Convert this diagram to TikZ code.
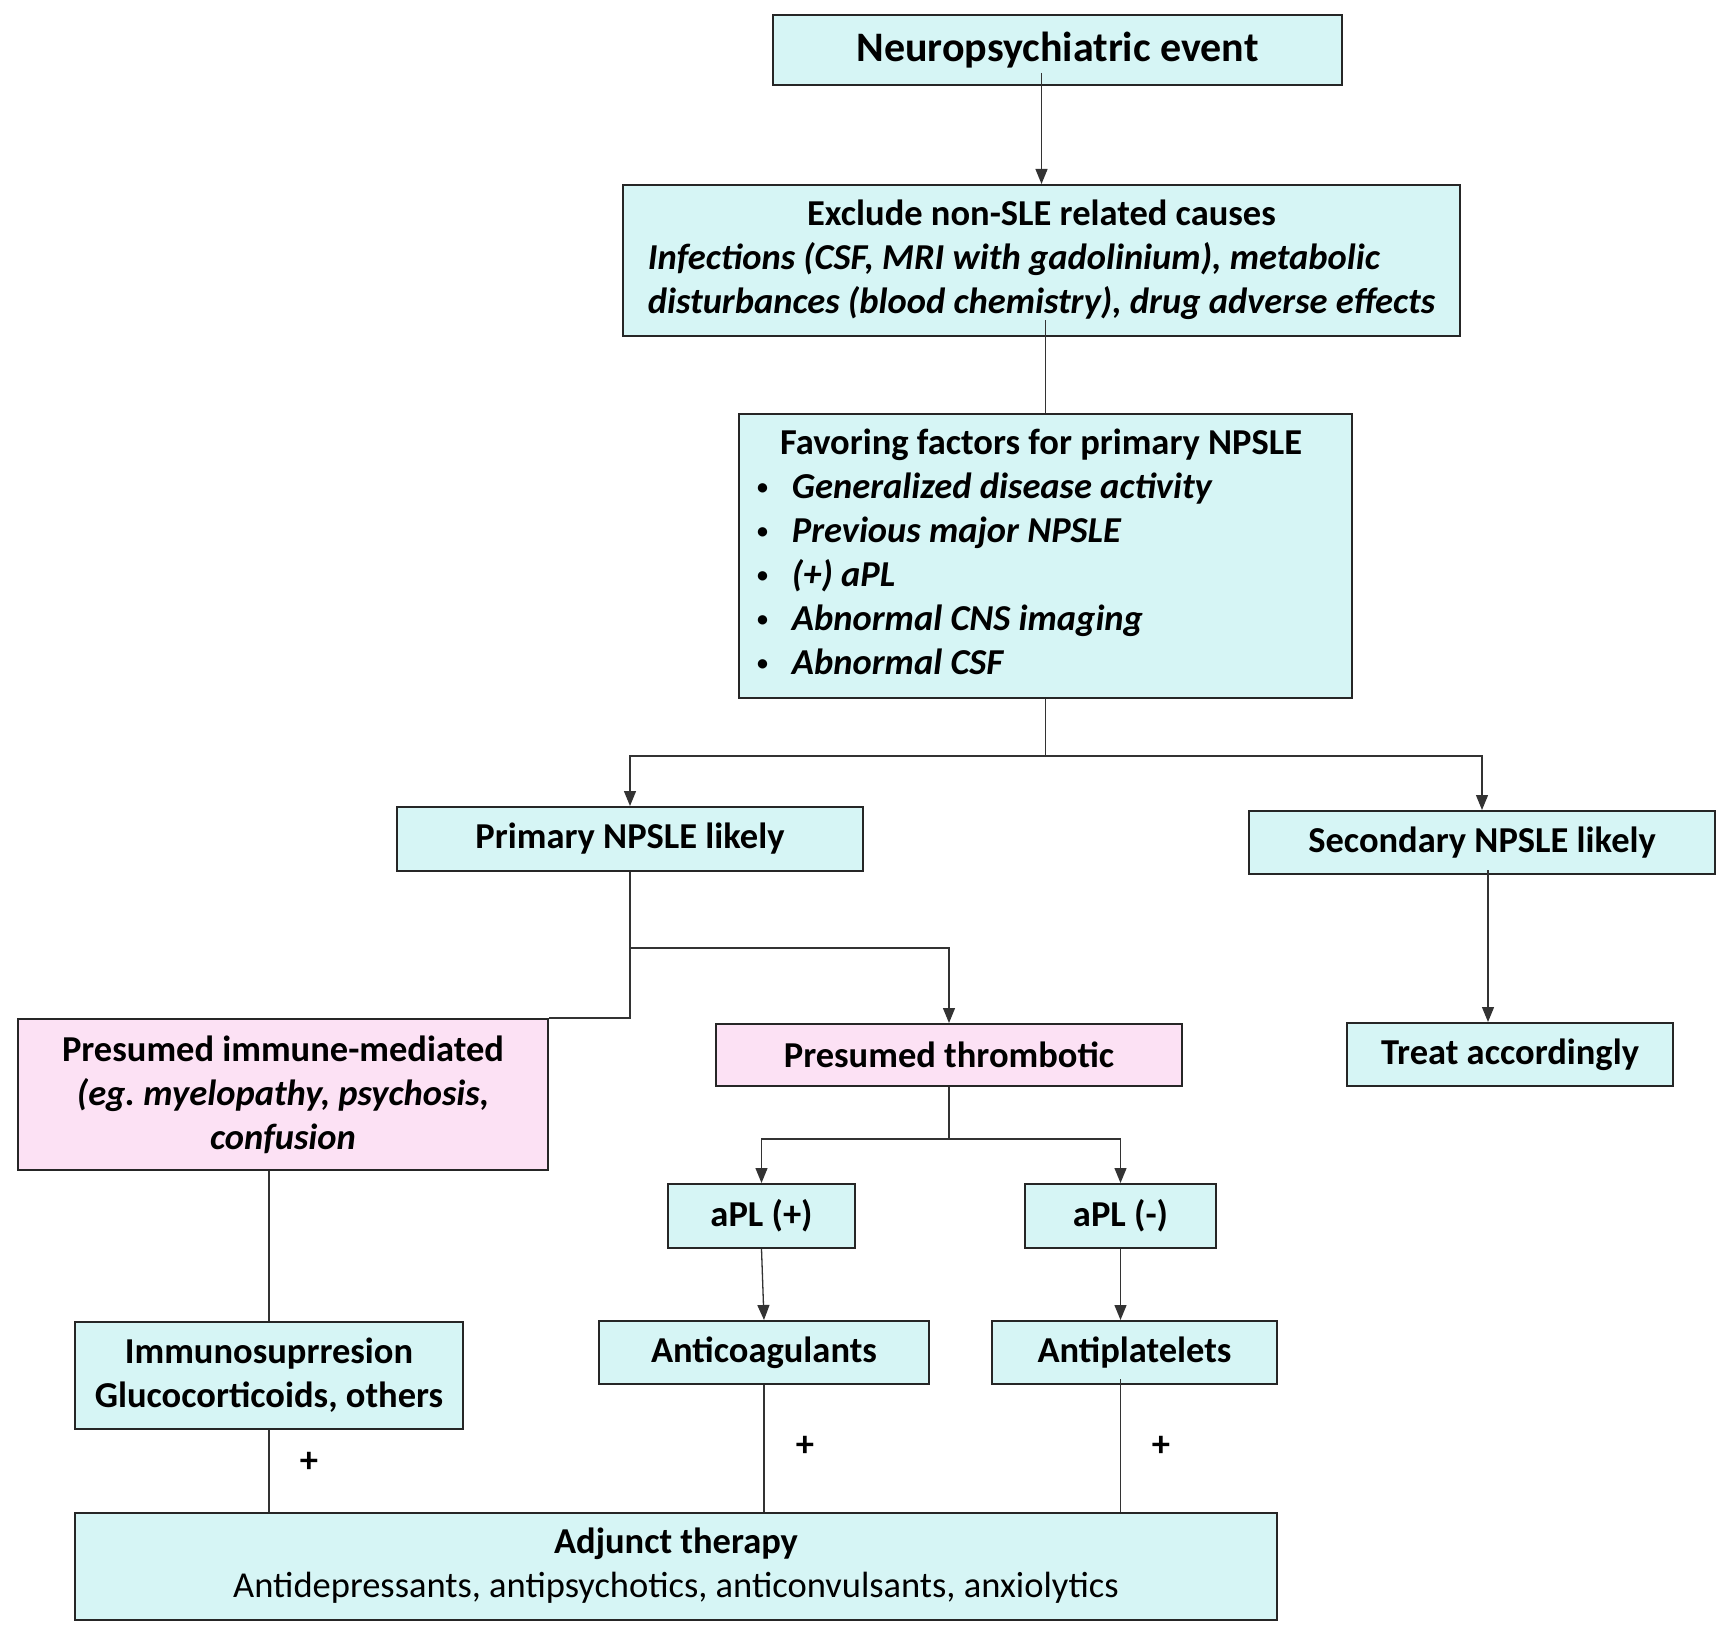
\documentclass[tikz,border=0pt]{standalone}
\usepackage{fontspec}
\setmainfont{Carlito}
\usetikzlibrary{arrows.meta}
\definecolor{boxcyan}{RGB}{214,245,245}
\definecolor{boxpink}{RGB}{252,225,244}
\newcommand{\factorbullet}{\raisebox{4pt}{\fontsize{22}{22}\selectfont\textbullet}\hspace{24pt}}

\begin{document}
\begin{tikzpicture}[x=1pt,y=-1pt,
  box/.style={draw=black!85, line width=2pt, fill=boxcyan, inner sep=0pt, align=center,
    font=\bfseries\fontsize{36.5}{44}\selectfont},
  pinkbox/.style={box, fill=boxpink},
  line/.style={draw=black!80, line width=1.3pt},
  arr/.style={line, -{Triangle[length=15pt,width=12pt]}},
  plus/.style={font=\bfseries\fontsize{36.5}{44}\selectfont}]

  \useasboundingbox (0,0) rectangle (1726,1637);

  \node[box, minimum width=569pt, minimum height=70pt, font=\bfseries\fontsize{42}{50}\selectfont] (event) at (1057.5,50) {Neuropsychiatric event};
  \node[box, minimum width=837pt, minimum height=151pt] (exclude) at (1041.5,260.5) {\begin{tabular}{@{}l@{}}\multicolumn{1}{@{}c@{}}{Exclude non-SLE related causes}\\ \itshape Infections (CSF, MRI with gadolinium), metabolic\\ \itshape disturbances (blood chemistry), drug adverse effects\end{tabular}};
  \node[box, minimum width=613pt, minimum height=284pt, text width=577pt, align=left, inner xsep=18pt] (factors) at (1045.5,556) {\spaceskip=0pt\xspaceskip=0pt
    \begin{tabular}{@{}l@{}}\hspace*{23pt}Favoring factors for primary NPSLE\\
    \factorbullet\itshape Generalized disease activity\\
    \factorbullet\itshape Previous major NPSLE\\
    \factorbullet\itshape (+) aPL\\
    \factorbullet\itshape Abnormal CNS imaging\\
    \factorbullet\itshape Abnormal CSF\end{tabular}};
  \node[box, minimum width=466pt, minimum height=64pt] (primary) at (630,839) {Primary NPSLE likely};
  \node[box, minimum width=466pt, minimum height=63pt] (secondary) at (1482,842.5) {Secondary NPSLE likely};
  \node[pinkbox, minimum width=530pt, minimum height=151pt] (immune) at (283,1094.5) {Presumed immune-mediated\\ \textit{(eg.\ myelopathy, psychosis,}\\ \textit{confusion}};
  \node[pinkbox, minimum width=466pt, minimum height=62pt] (thrombotic) at (949,1055) {Presumed thrombotic};
  \node[box, minimum width=326pt, minimum height=63pt] (treat) at (1510,1054.5) {Treat accordingly};
  \node[box, minimum width=187pt, minimum height=64pt] (aplpos) at (761.5,1216) {aPL (+)};
  \node[box, minimum width=191pt, minimum height=64pt] (aplneg) at (1120.5,1216) {aPL (-)};
  \node[box, minimum width=388pt, minimum height=107pt] (immuno) at (269,1375.5) {Immunosuprresion\\ Glucocorticoids, others};
  \node[box, minimum width=330pt, minimum height=63pt] (anticoag) at (764,1352.5) {Anticoagulants};
  \node[box, minimum width=285pt, minimum height=63pt] (antiplat) at (1134.5,1352.5) {Antiplatelets};
  \node[box, minimum width=1202pt, minimum height=107pt] (adjunct) at (676,1566) {Adjunct therapy\\ \textmd{Antidepressants, antipsychotics, anticonvulsants, anxiolytics}};

  \draw[arr, shorten <=-13pt] (exclude.north |- event.south) -- (exclude.north);
  \draw[line, shorten <=-17pt] (factors.north |- exclude.south) -- (factors.north);
  \draw[arr] (factors.south) -- ++(0,57) -| (primary.north);
  \draw[arr] (factors.south) -- ++(0,57) -| (secondary.north);
  \draw[arr] (primary.south) -- ++(0,76) -| (thrombotic.north);
  \draw[line] (primary.south) |- (immune.north east);
  \draw[arr, shorten <=-5pt] ([xshift=6pt]secondary.south) -- ([xshift=-22pt]treat.north);
  \draw[arr] (thrombotic.south) -- ++(0,52) -| (aplpos.north);
  \draw[arr] (thrombotic.south) -- ++(0,52) -| (aplneg.north);
  \draw[arr] (aplpos.south) -- (anticoag.north);
  \draw[arr] (aplneg.south) -- (aplneg.south |- antiplat.north);
  \draw[line] (immuno.north |- immune.south) -- (immuno.north);
  \draw[line] (immuno.south) -- (immuno.south |- adjunct.north);
  \draw[line] (anticoag.south) -- (anticoag.south |- adjunct.north);
  \draw[line, shorten <=-6pt] (aplneg.south |- antiplat.south) -- (aplneg.south |- adjunct.north);

  \node[plus] (plusA) at (309,1462) {+};
  \node[plus] (plusB) at (805,1446) {+};
  \node[plus] (plusC) at (1161,1446) {+};
\end{tikzpicture}
\end{document}
